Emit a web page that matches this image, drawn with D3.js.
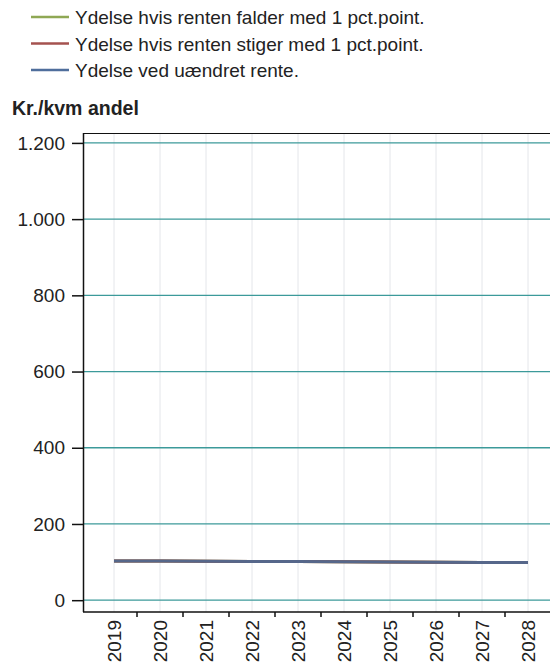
<!DOCTYPE html>
<html><head><meta charset="utf-8">
<script src="https://cdn.jsdelivr.net/npm/d3@7"></script>
<style>body{margin:0;background:#fff;} svg{display:block;font-family:"Liberation Sans",Arial,sans-serif;}</style>
</head><body>
<svg id="c" width="550" height="671"></svg>
<script>
const years = ["2019","2020","2021","2022","2023","2024","2025","2026","2027","2028"];
const faldValues = [103,102.6,102.1,101.7,101.2,100.6,100.1,99.6,99.1,98.6];
const stigValues = [103,102.6,102.1,101.7,101.2,100.6,100.1,99.6,99.1,98.6];
const uaendretValues = [103,102.6,102.1,101.7,101.2,100.6,100.1,99.6,99.1,98.6];
const yTicks = [0,200,400,600,800,1000,1200];
const seriesNames = ["Ydelse hvis renten falder med 1 pct.point.","Ydelse hvis renten stiger med 1 pct.point.","Ydelse ved uændret rente."];
const seriesColors = ["#8fa854","#a5524f","#4f6e9c"];

(function(){
const svg = d3.select("#c");
const pL = 83, pR = 560, pT = 133, pB = 612;
const FS = 19;
const x = d3.scalePoint().domain(years).range([114, 528]);
const y = d3.scaleLinear().domain([-31, 1226]).range([pB, pT]);
const fmt = d => d3.format(",")(d).replace(/,/g, ".");

// vertical grid
svg.append("g").selectAll("line").data(years).join("line")
  .attr("x1", d => x(d)).attr("x2", d => x(d)).attr("y1", pT).attr("y2", pB)
  .attr("stroke", "#e4e6ea").attr("stroke-width", 1);
// horizontal grid
svg.append("g").selectAll("line").data(yTicks).join("line")
  .attr("x1", pL).attr("x2", pR).attr("y1", d => y(d)).attr("y2", d => y(d))
  .attr("stroke", "#3c9a9a").attr("stroke-width", 1.3);
// top border
svg.append("line").attr("x1", pL).attr("x2", pR).attr("y1", pT + 0.5).attr("y2", pT + 0.5)
  .attr("stroke", "#111").attr("stroke-width", 1.2);

// y axis
const yAxis = d3.axisLeft(y).tickValues(yTicks).tickFormat(fmt).tickSize(11).tickPadding(7);
const ya = svg.append("g").attr("transform", `translate(${pL},0)`).call(yAxis);
ya.attr("font-size", FS).attr("font-family", "Liberation Sans, Arial, sans-serif");
ya.select(".domain").attr("d", `M0.5,${pT}V${pB}`).attr("stroke", "#111").attr("stroke-width", 1.5);
ya.selectAll(".tick line").attr("stroke", "#111").attr("stroke-width", 1.5);
ya.selectAll("text").attr("fill", "#222");

// x axis line + ticks between categories
const step = x.step();
const xa = svg.append("g");
xa.append("line").attr("x1", pL).attr("x2", pR).attr("y1", pB).attr("y2", pB)
  .attr("stroke", "#111").attr("stroke-width", 1.5);
xa.selectAll("line.t").data(years.slice(0, -1)).join("line").attr("class", "t")
  .attr("x1", d => x(d) + step / 2).attr("x2", d => x(d) + step / 2)
  .attr("y1", pB).attr("y2", pB + 5).attr("stroke", "#111").attr("stroke-width", 1.5);
xa.selectAll("text").data(years).join("text")
  .attr("transform", d => `translate(${x(d) + 7},${pB + 8}) rotate(-90)`)
  .attr("text-anchor", "end").attr("font-size", FS).attr("fill", "#222").text(d => d);

// lines
const line = d3.line().x((d, i) => x(years[i])).y(d => y(d));
[faldValues, stigValues, uaendretValues].forEach((vals, i) => {
  svg.append("path").datum(vals).attr("d", line).attr("fill", "none")
    .attr("stroke", i === 2 ? "#56678a" : seriesColors[i]).attr("stroke-width", 3);
});

// legend
const lg = svg.append("g");
seriesNames.forEach((n, i) => {
  const yy = 17 + i * 26.5;
  lg.append("line").attr("x1", 31).attr("x2", 69).attr("y1", yy).attr("y2", yy)
    .attr("stroke", seriesColors[i]).attr("stroke-width", 2.5);
  lg.append("text").attr("x", 75).attr("y", yy + 7).attr("font-size", FS).attr("fill", "#222").text(n);
});

// y title
svg.append("text").attr("x", 12).attr("y", 115).attr("font-size", 19.5).attr("font-weight", "bold")
  .attr("fill", "#222").text("Kr./kvm andel");
})();
</script>
</body></html>
